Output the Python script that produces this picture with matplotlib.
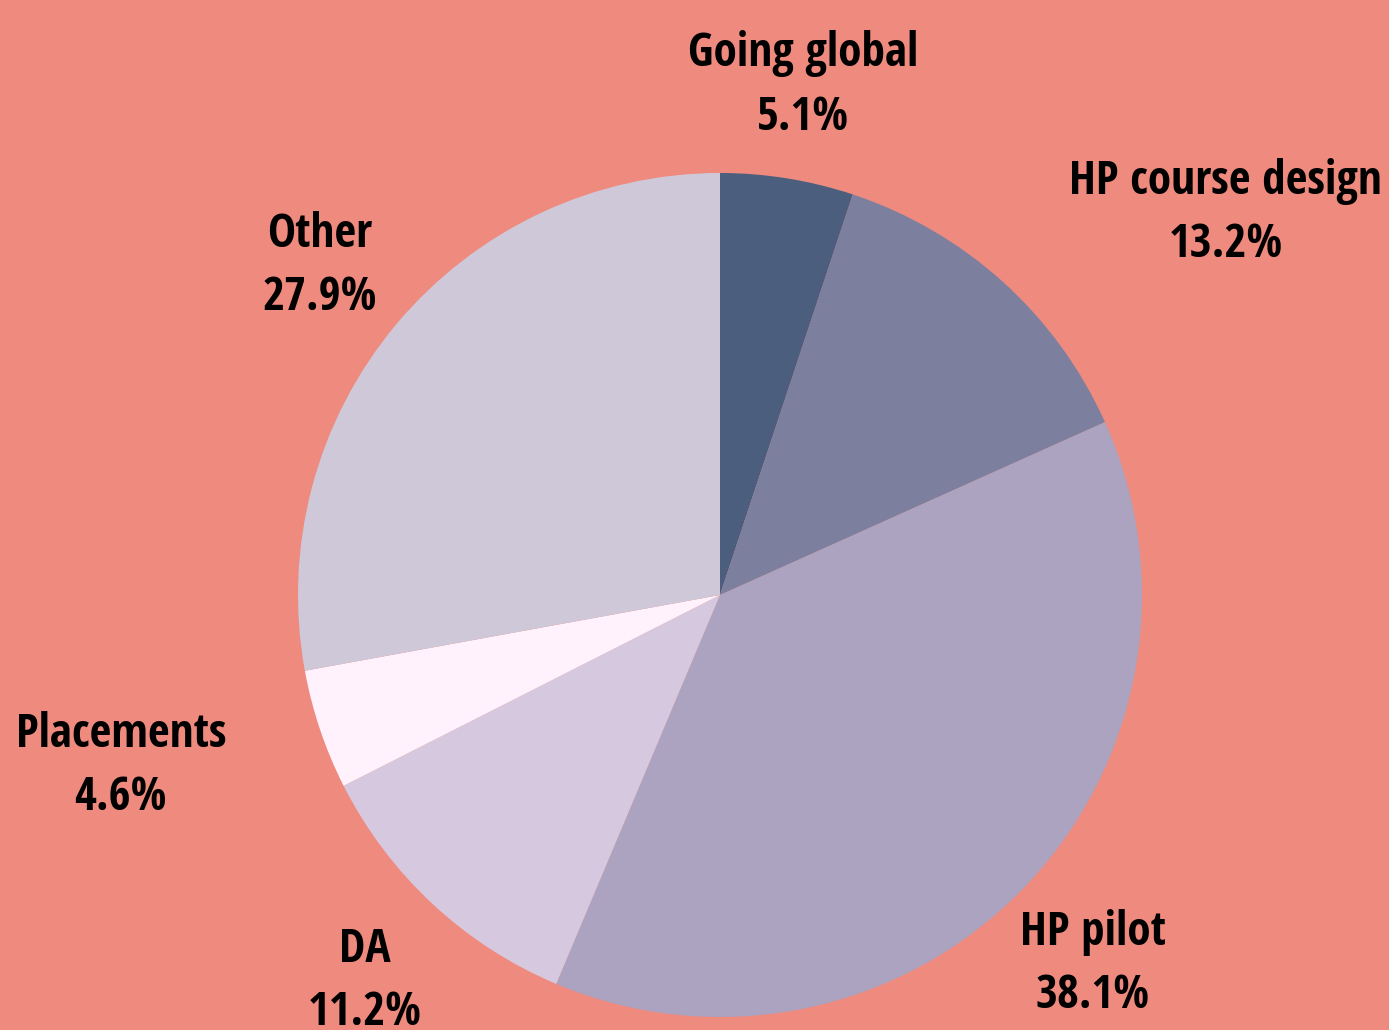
import numpy as np
import matplotlib
matplotlib.use("Agg")
import matplotlib.pyplot as plt
from matplotlib import font_manager as fm

categories = ["Going global", "HP course design", "HP pilot", "DA", "Placements", "Other"]
values = [5.1, 13.2, 38.1, 11.2, 4.6, 27.9]
colors = ["#4b5e7e", "#7d7f9f", "#aba3c0", "#d6c8de", "#fff2fd", "#cfc8d9"]
label_align = ["center", "left", "center", "center", "right", "center"]
bg = "#ee8a7e"

# pick a condensed font if available
cands = [f for f in fm.fontManager.ttflist]
family = "Open Sans"
stretch = "normal"
cond = [f for f in cands if "Open Sans" in f.name and f.stretch in ("condensed", "semi-condensed", "extra-condensed")]
if cond:
    family = cond[0].name
    stretch = cond[0].stretch
else:
    narrow = [f for f in cands if "Narrow" in f.name or "Condensed" in f.name]
    if narrow:
        family = narrow[0].name

fig = plt.figure(figsize=(13.89, 10.30), dpi=100, facecolor=bg)
ax = fig.add_axes([0, 0, 1, 1])
ax.set_facecolor(bg)

W, H = 1389, 1030
cx, cy, R = 720, 1030 - 595, 422

wedges, _ = ax.pie(values, colors=colors, startangle=90, counterclock=False,
                   radius=R, center=(cx, cy), wedgeprops=dict(linewidth=0))

total = sum(values)
cum = 0
for cat, v, al in zip(categories, values, label_align):
    mid = (cum + v / 2) / total * 2 * np.pi
    cum += v
    r = R * 1.235
    x = cx + r * np.sin(mid)
    y = cy + r * np.cos(mid) - 5
    ax.text(x, y, f"{cat}\n{v:.1f}%", ha=al, va="center", multialignment="center",
            fontsize=34, fontweight="bold", family=family, fontstretch=stretch,
            color="black", linespacing=1.45)

ax.set_xlim(0, W)
ax.set_ylim(0, H)
ax.set_aspect("equal")
ax.axis("off")
fig.savefig("out.png", dpi=100, facecolor=bg)
